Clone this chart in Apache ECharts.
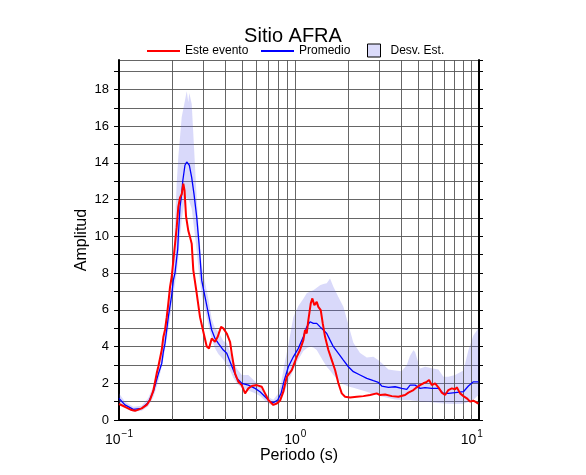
<!DOCTYPE html>
<html>
<head>
<meta charset="utf-8">
<script src="https://cdn.jsdelivr.net/npm/echarts@6/dist/echarts.min.js"></script>
<style>html,body{margin:0;padding:0;background:#fff;}#c{width:586px;height:475px;}</style>
</head>
<body>
<div id="c"></div>
<script>
// Este evento (red)
const redPeriod = [0.1000,0.1081,0.1180,0.1233,0.1345,0.1436,0.1499,0.1566,0.1636,0.1670,0.1747,0.1783,0.1823,0.1865,0.1904,0.1947,0.1990,0.2059,0.2125,0.2169,0.2218,0.2268,0.2316,0.2353,0.2399,0.2472,0.2527,0.2584,0.2638,0.2758,0.2880,0.3007,0.3144,0.3239,0.3355,0.3503,0.3629,0.3789,0.3905,0.4082,0.4263,0.4357,0.4550,0.4751,0.4965,0.5185,0.5413,0.5658,0.6039,0.6447,0.6733,0.7029,0.7503,0.7844,0.8190,0.8550,0.8938,0.9541,1.0184,1.063,1.110,1.135,1.160,1.185,1.223,1.249,1.282,1.322,1.350,1.393,1.430,1.474,1.539,1.609,1.680,1.754,1.833,1.914,2.043,2.230,2.431,2.653,2.895,3.023,3.227,3.522,3.839,4.190,4.375,4.670,4.883,5.097,5.321,5.563,5.733,5.938,6.200,6.473,6.767,7.065,7.376,7.711,8.051,8.231,8.594,8.974,9.379,9.793,10.22,10.69,10.92];
const redValue = [0.87,0.72,0.54,0.50,0.63,0.82,1.09,1.60,2.54,2.90,3.81,4.50,4.90,5.60,6.35,7.25,7.80,9.20,10.5,11.6,12.1,12.3,12.87,12.5,11.1,10.3,9.97,9.6,8.16,6.9,5.6,4.8,4.0,3.9,4.44,4.26,4.53,5.07,4.99,4.71,4.26,3.63,2.54,2.08,1.9,1.45,1.72,1.85,1.9,1.81,1.45,1.09,0.82,0.9,1.05,1.54,2.35,2.72,3.44,3.81,4.35,4.9,4.71,5.44,6.35,6.62,6.25,6.43,6.16,5.98,5.26,4.53,3.81,3.26,2.72,2.0,1.45,1.27,1.23,1.27,1.3,1.36,1.45,1.36,1.39,1.30,1.27,1.36,1.49,1.63,1.78,1.9,2.0,2.08,2.18,1.9,2.0,1.78,1.49,1.36,1.63,1.72,1.67,1.78,1.45,1.3,1.18,1.0,1.05,0.94,0.9];

// Promedio (blue)
const bluePeriod = [0.1000,0.1081,0.1205,0.1345,0.1466,0.1566,0.1670,0.1747,0.1783,0.1823,0.1904,0.1990,0.2032,0.2077,0.2152,0.2169,0.2218,0.2268,0.2298,0.2366,0.2421,0.2504,0.2584,0.2663,0.2758,0.2843,0.2945,0.3075,0.3210,0.3355,0.3503,0.3658,0.3905,0.4082,0.4263,0.4450,0.4652,0.4965,0.5413,0.5907,0.6306,0.6733,0.7187,0.7503,0.7946,0.8296,0.8663,0.9127,0.9741,1.0399,1.110,1.160,1.212,1.265,1.322,1.381,1.441,1.507,1.573,1.643,1.754,1.872,1.998,2.133,2.328,2.541,2.770,2.956,3.090,3.371,3.678,4.014,4.283,4.473,4.775,5.097,5.441,5.938,6.473,6.910,7.376,8.051,8.974,9.579,10.22,10.92];
const blueValue = [1.18,0.82,0.58,0.63,0.95,1.55,2.5,3.08,3.7,4.17,5.6,6.8,7.6,8.0,9.3,10.0,11.6,12.3,13.0,13.87,14.05,13.87,13.2,12.3,11.05,9.6,7.6,6.7,5.8,4.9,4.44,4.17,3.81,3.63,3.17,2.72,2.27,2.0,1.9,1.72,1.54,1.27,1.0,0.94,1.09,1.45,2.18,2.9,3.44,3.9,4.53,5.07,5.35,5.26,5.26,5.07,4.9,4.71,4.35,3.99,3.63,3.26,2.9,2.63,2.45,2.27,2.14,2.05,1.85,1.78,1.81,1.72,1.67,1.9,1.9,1.72,1.76,1.72,1.72,1.45,1.45,1.49,1.54,1.85,2.08,2.08];

// Desv. Est. (band)
const bandPeriod = [0.1000,0.1081,0.1205,0.1345,0.1466,0.1566,0.1670,0.1783,0.1904,0.2032,0.2125,0.2169,0.2218,0.2268,0.2366,0.2421,0.2472,0.2504,0.2584,0.2638,0.2698,0.2758,0.2854,0.2945,0.3075,0.3210,0.3355,0.3503,0.3658,0.3905,0.4082,0.4263,0.4450,0.4652,0.4965,0.5413,0.5907,0.6306,0.6733,0.7187,0.7503,0.7946,0.8296,0.8663,0.9127,0.9741,1.0399,1.110,1.160,1.212,1.265,1.322,1.381,1.441,1.507,1.573,1.643,1.754,1.872,1.998,2.133,2.328,2.541,2.770,2.956,3.090,3.371,3.678,4.014,4.283,4.473,4.670,4.775,5.097,5.441,5.938,6.473,6.910,7.376,8.051,8.974,9.579,10.22,10.92];
const bandLow = [0.95,0.65,0.45,0.5,0.75,1.25,2.1,3.3,4.9,6.8,8.0,8.8,10.0,10.9,12.0,12.1,12.0,11.9,11.5,10.8,10.0,9.2,7.8,6.8,6.0,5.2,4.4,3.9,3.6,3.3,3.0,2.7,2.3,2.0,1.75,1.6,1.45,1.3,1.05,0.85,0.8,0.9,1.05,1.5,2.1,2.72,3.3,3.75,3.9,4.0,3.95,3.81,3.5,3.2,2.9,2.7,2.45,2.15,1.95,1.82,1.75,1.65,1.54,1.42,1.35,1.28,1.2,1.12,1.09,1.08,1.07,1.05,1.05,1.0,1.0,0.97,0.92,0.9,0.88,0.87,0.88,0.98,1.1,1.36];
const bandHigh = [1.45,1.0,0.72,0.78,1.2,1.85,2.9,4.4,6.6,8.6,12.9,14.3,15.4,16.5,17.4,17.9,17.3,17.8,17.2,15.6,13.8,12.1,10.0,8.4,7.5,6.6,5.5,5.0,4.8,4.3,4.2,3.7,3.2,2.8,2.45,2.45,2.1,1.8,1.5,1.2,1.1,1.4,2.0,3.0,4.1,5.6,6.2,6.6,6.9,7.0,7.07,7.2,7.34,7.4,7.45,7.7,7.25,6.7,6.16,5.2,4.2,3.65,3.4,3.44,3.25,3.1,2.75,2.7,2.65,3.0,3.5,3.8,3.7,2.8,2.9,2.82,2.75,2.35,2.35,2.45,2.7,3.8,4.6,5.0];

// Axis ticks
const xMajorTicks = [0.1, 1, 10];
const xMinorTicks = [0.2,0.3,0.4,0.5,0.6,0.7,0.8,0.9,2,3,4,5,6,7,8,9];
const yTickLabels = [0,2,4,6,8,10,12,14,16,18];

const FONT = 'Liberation Sans, Arial, Helvetica, sans-serif';
const GRID_COLOR = '#555';
const BAND_FILL = 'rgba(105,105,235,0.25)';
const zip = (a, b) => a.map((v, i) => [v, b[i]]);

const chart = echarts.init(document.getElementById('c'), null, {renderer: 'canvas'});

const gridLineSeries = {
  type: 'line', data: [], silent: true, z: 3,
  markLine: {
    silent: true, symbol: ['none', 'none'], animation: false,
    label: {show: false},
    lineStyle: {color: GRID_COLOR, width: 1, type: 'solid', opacity: 0.9},
    data: xMinorTicks.concat(xMajorTicks.slice(1)).map(v => ({xAxis: v}))
  }
};

chart.setOption({
  animation: false,
  backgroundColor: '#fff',
  textStyle: {fontFamily: FONT},
  title: {
    text: 'Sitio AFRA', left: 'center', top: 21,
    textStyle: {fontFamily: FONT, fontSize: 20, fontWeight: 'normal', color: '#000'}
  },
  legend: [
    {left: 142, top: 40, itemWidth: 33, itemHeight: 14,
     textStyle: {fontFamily: FONT, fontSize: 12, color: '#000'},
     data: [{name: 'Este evento', icon: 'path://M0,6 L33,6 L33,8 L0,8 Z', itemStyle: {color: '#ff0000'}}]},
    {left: 256, top: 40, itemWidth: 33, itemHeight: 14,
     textStyle: {fontFamily: FONT, fontSize: 12, color: '#000'},
     data: [{name: 'Promedio', icon: 'path://M0,6 L33,6 L33,8 L0,8 Z', itemStyle: {color: '#0000ff'}}]},
    {left: 362, top: 38.5, itemWidth: 13, itemHeight: 13,
     textStyle: {fontFamily: FONT, fontSize: 12, color: '#000', padding: [0, 0, 0, 5]},
     data: [{name: 'Desv. Est.', icon: 'rect', itemStyle: {color: '#dbdbfa', borderColor: '#000', borderWidth: 1}}]}
  ],
  grid: {left: 119, top: 60, right: 107, bottom: 55, containLabel: false},
  xAxis: [
    {
      type: 'log', logBase: 10, min: 0.1, max: 11, position: 'bottom',
      name: 'Periodo (s)', nameLocation: 'middle', nameGap: 28, nameMoveOverlap: false,
      nameTextStyle: {fontFamily: FONT, fontSize: 16, color: '#000'},
      axisLine: {show: true, lineStyle: {color: '#000', width: 2}},
      axisTick: {show: false},
      splitLine: {show: false},
      axisLabel: {
        margin: 9, color: '#000',
        formatter: function (v) {
          const e = Math.round(Math.log10(v));
          if (Math.abs(Math.pow(10, e) - v) > 1e-9) return '';
          const s = e < 0 ? '\u2212' + (-e) : String(e);
          return '{b|10}{s|' + s + '}';
        },
        rich: {
          b: {fontFamily: FONT, fontSize: 14, color: '#000', lineHeight: 18, verticalAlign: 'bottom'},
          s: {fontFamily: FONT, fontSize: 10, color: '#000', lineHeight: 18, verticalAlign: 'top', padding: [0, 0, 0, 1]}
        }
      }
    },
    {
      type: 'log', logBase: 10, min: 0.1, max: 11, position: 'top',
      axisLine: {show: true, lineStyle: {color: '#000', width: 2}},
      axisTick: {show: true, inside: false, length: 5, lineStyle: {color: '#000', width: 1}},
      minorTick: {show: true, splitNumber: 9, length: 4, lineStyle: {color: '#333', width: 1}},
      axisLabel: {show: false},
      splitLine: {show: false}
    }
  ],
  yAxis: [
    {
      type: 'value', min: 0, max: 19.6, interval: 1, position: 'left',
      name: 'Amplitud', nameLocation: 'middle', nameGap: 29, nameRotate: 90, nameMoveOverlap: false,
      nameTextStyle: {fontFamily: FONT, fontSize: 16, color: '#000'},
      axisLine: {show: true, lineStyle: {color: '#000', width: 2}},
      axisTick: {show: true, inside: false, length: 5, lineStyle: {color: '#000', width: 1}},
      splitLine: {show: true, lineStyle: {color: GRID_COLOR, width: 1, opacity: 0.9}},
      axisLabel: {
        margin: 10, color: '#000', fontFamily: FONT, fontSize: 13, showMaxLabel: false,
        formatter: v => (yTickLabels.indexOf(v) >= 0 ? String(v) : '')
      }
    },
    {
      type: 'value', min: 0, max: 19.6, interval: 1, position: 'right',
      axisLine: {show: true, lineStyle: {color: '#000', width: 2}},
      axisTick: {show: true, inside: false, length: 4, lineStyle: {color: '#000', width: 1}},
      splitLine: {show: false},
      axisLabel: {show: false}
    }
  ],
  series: [
    {
      type: 'custom', name: 'Desv. Est.', silent: true, z: 4,
      coordinateSystem: 'cartesian2d',
      data: [[bandPeriod[0], bandLow[0]]],
      itemStyle: {color: '#dbdbfa'},
      renderItem: function (params, api) {
        const upper = bandPeriod.map((p, i) => api.coord([p, bandHigh[i]]));
        const lower = bandPeriod.map((p, i) => api.coord([p, bandLow[i]])).reverse();
        return {
          type: 'polygon',
          shape: {points: upper.concat(lower)},
          style: {fill: BAND_FILL, stroke: null}
        };
      }
    },
    gridLineSeries,
    {
      type: 'line', name: 'Promedio', data: zip(bluePeriod, blueValue),
      symbol: 'none', z: 5, lineStyle: {color: '#0000ff', width: 1.3}, itemStyle: {color: '#0000ff'}
    },
    {
      type: 'line', name: 'Este evento', data: zip(redPeriod, redValue),
      symbol: 'none', z: 6, lineStyle: {color: '#ff0000', width: 2}, itemStyle: {color: '#ff0000'}
    }
  ]
});
</script>
</body>
</html>
